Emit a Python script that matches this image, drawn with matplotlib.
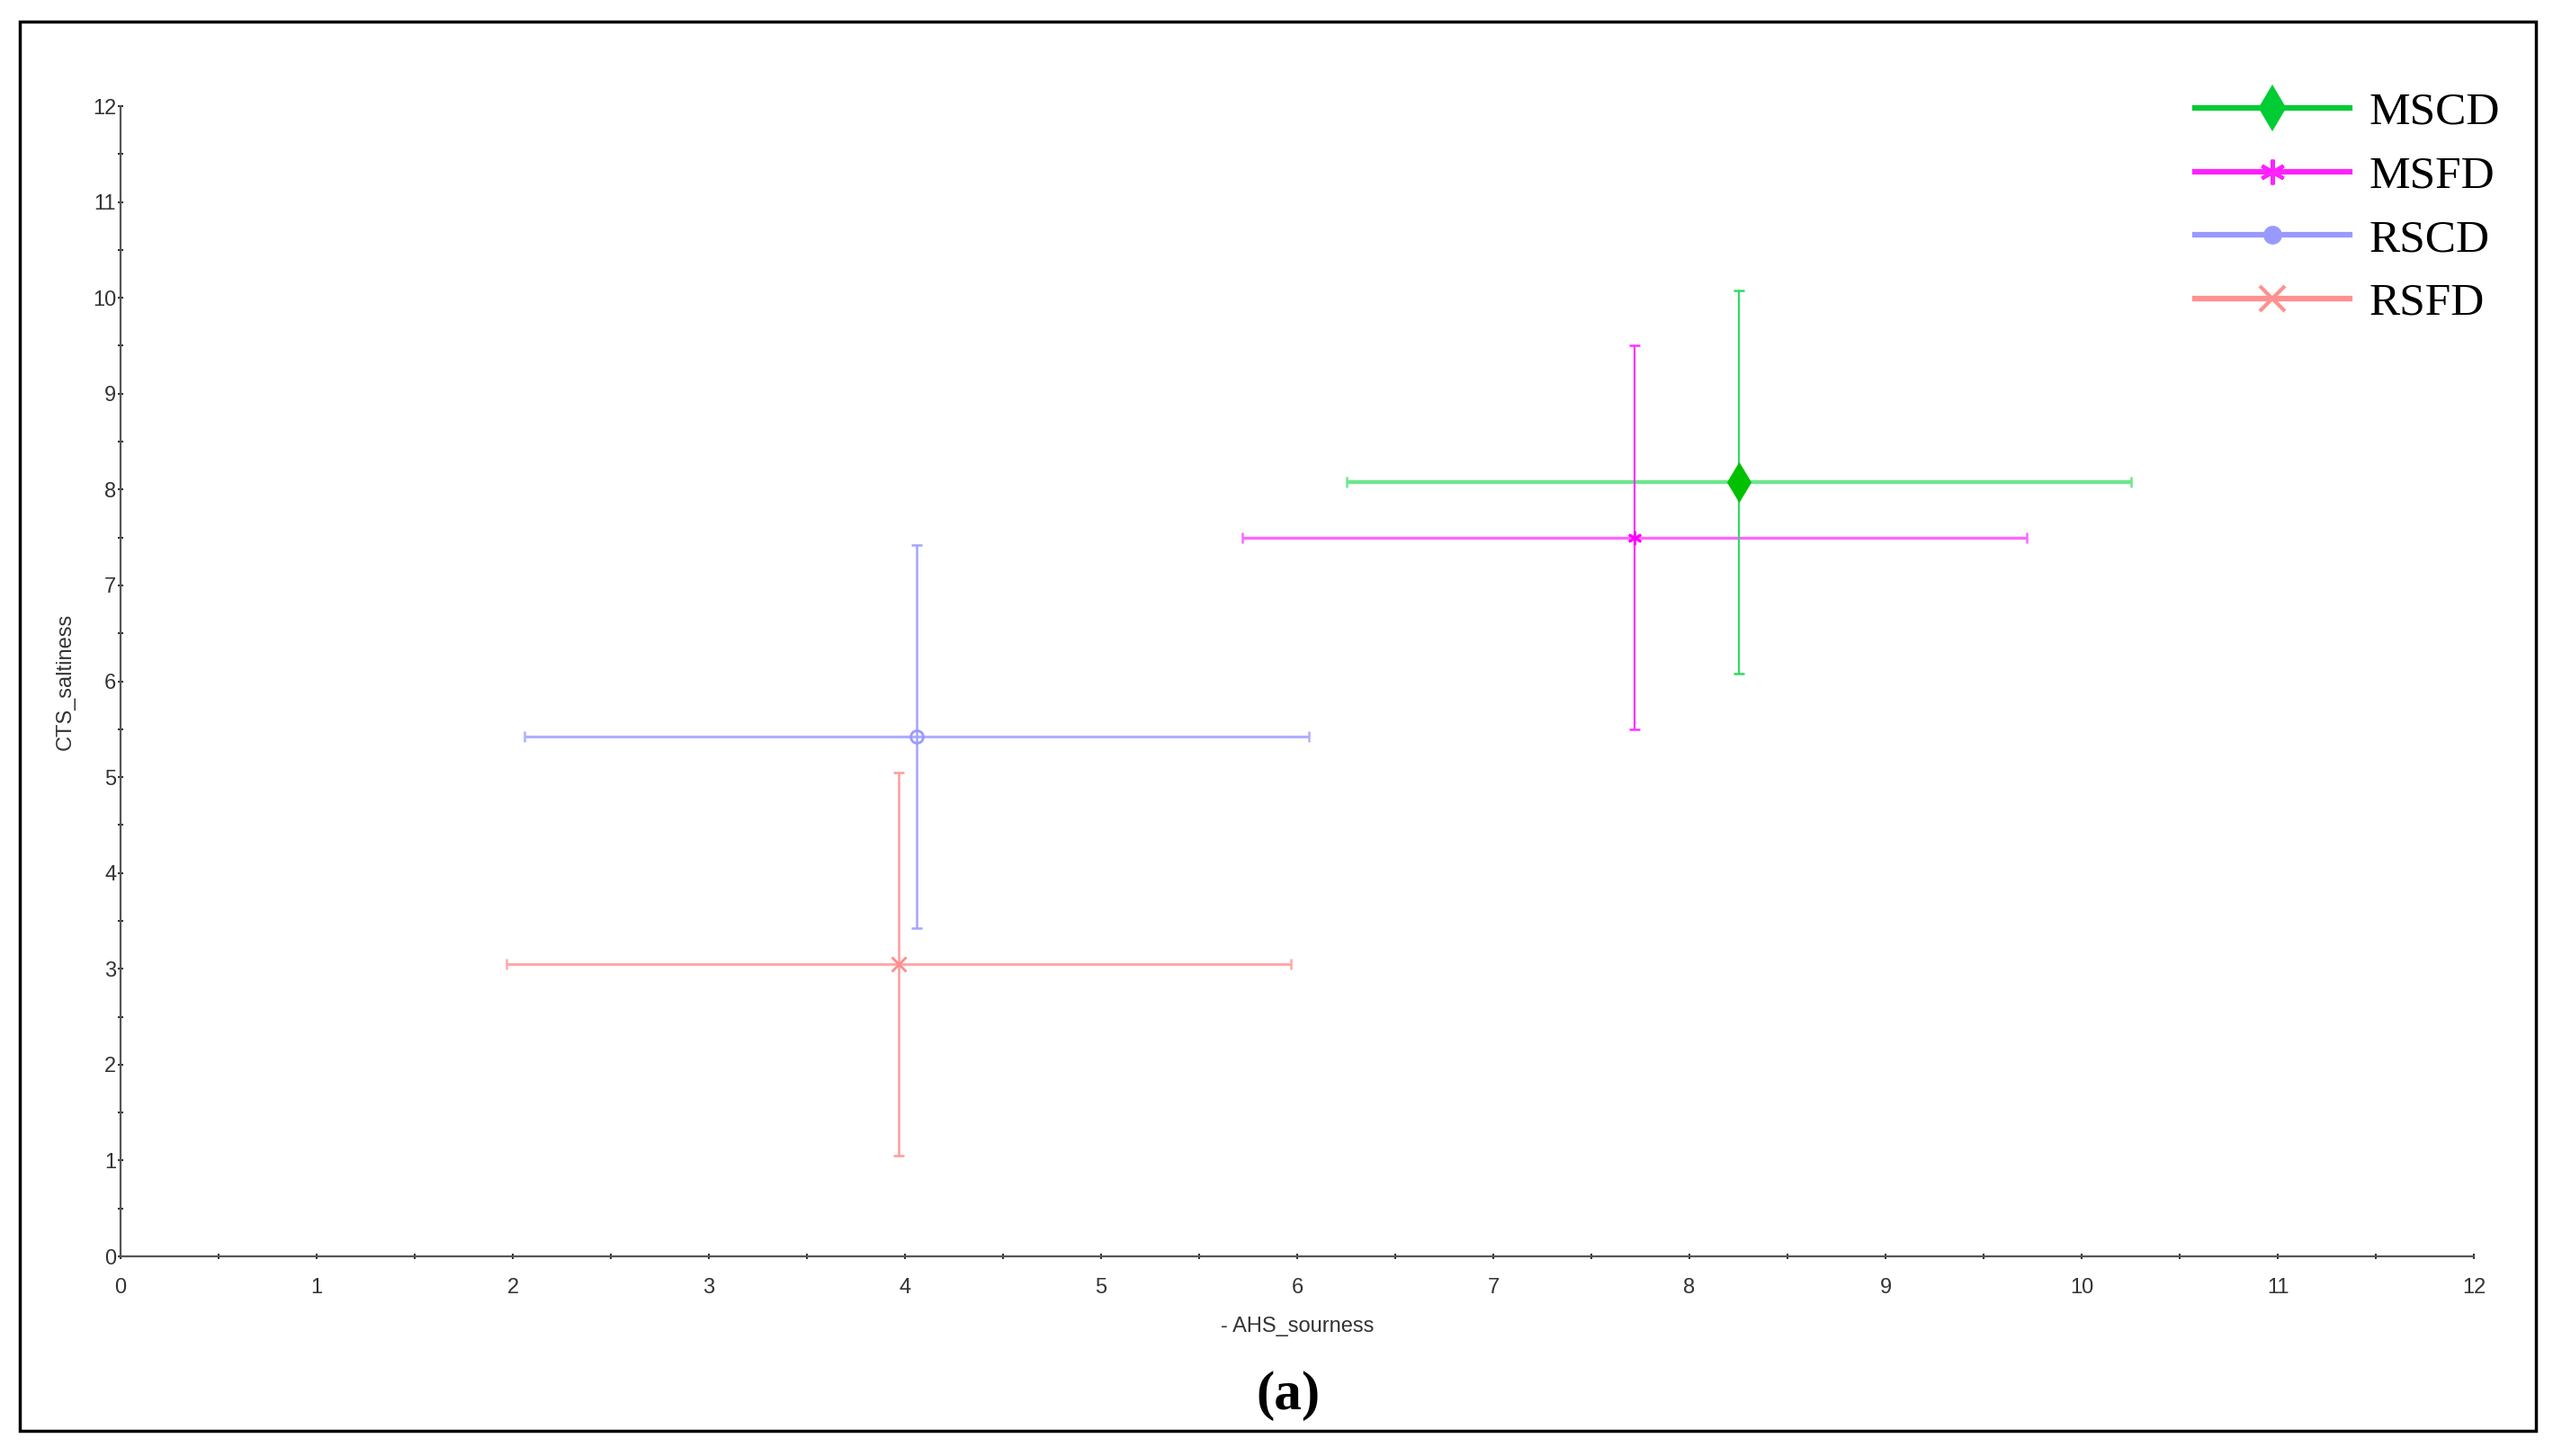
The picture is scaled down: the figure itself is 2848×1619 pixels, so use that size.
import matplotlib
matplotlib.use("Agg")
import matplotlib.pyplot as plt
from matplotlib.lines import Line2D
from matplotlib.patches import Rectangle
from matplotlib.ticker import MultipleLocator

# ---- data ----
samples = ["MSCD", "MSFD", "RSCD", "RSFD"]
x_sourness = [8.25, 7.72, 4.06, 3.97]
y_saltiness = [8.08, 7.50, 5.42, 3.05]
x_err = [2.0, 2.0, 2.0, 2.0]
y_err = [2.0, 2.0, 2.0, 2.0]
x_ticks = list(range(0, 13))
y_ticks = list(range(0, 13))

# ---- styles ----
marker_col = ["#00C000", "#FF00FF", "#9A9AFF", "#FF8C8C"]
hbar_col = ["#6EE68E", "#FF66FF", "#AEAEFF", "#FFA8A8"]
vbar_col = ["#33D966", "#FF33FF", "#A4A4FF", "#FF9C9C"]
hbar_lw = [3.2, 2.4, 2.2, 2.2]
vbar_lw = [1.6, 1.6, 1.8, 1.8]
markers = ["d", (6, 2, 0), "o", "x"]
msizes = [20, 11, 10, 12]
leg_col = ["#00CC33", "#FF22FF", "#9999FF", "#FF9090"]
leg_ms = [22, 20, 12, 20]

W, H = 2848, 1619
fig = plt.figure(figsize=(W / 100, H / 100), dpi=100)
fig.patch.set_facecolor("white")
ax = fig.add_axes([134 / W, 1 - 1397 / H, (2750 - 134) / W, (1397 - 118) / H])

for i in range(len(samples)):
    ax.errorbar(x_sourness[i], y_saltiness[i], xerr=x_err[i], fmt="none",
                ecolor=hbar_col[i], elinewidth=hbar_lw[i], capsize=4,
                capthick=1.8, zorder=2)
    ax.errorbar(x_sourness[i], y_saltiness[i], yerr=y_err[i], fmt="none",
                ecolor=vbar_col[i], elinewidth=vbar_lw[i], capsize=4,
                capthick=1.8, zorder=3)
    mfc = marker_col[i] if i != 2 else "none"
    ax.plot(x_sourness[i], y_saltiness[i], linestyle="none", marker=markers[i],
            markersize=msizes[i], color=marker_col[i], markerfacecolor=mfc,
            markeredgecolor=marker_col[i], markeredgewidth=2, zorder=4)

ax.set_xlim(0, 12)
ax.set_ylim(0, 12)
ax.set_xticks(x_ticks)
ax.set_yticks(y_ticks)
ax.xaxis.set_minor_locator(MultipleLocator(0.5))
ax.yaxis.set_minor_locator(MultipleLocator(0.5))
for s in ["top", "right"]:
    ax.spines[s].set_visible(False)
for s in ["left", "bottom"]:
    ax.spines[s].set_color("#555555")
    ax.spines[s].set_linewidth(1.6)

tick_font = "Liberation Sans"
ax.tick_params(axis="both", which="both", direction="inout", length=5,
               width=1.5, color="#333333", labelcolor="#333333")
ax.tick_params(axis="x", which="major", pad=15, labelsize=17)
ax.tick_params(axis="y", which="major", pad=1, labelsize=17)
for lab in ax.get_xticklabels() + ax.get_yticklabels():
    lab.set_fontfamily(tick_font)

ax.set_xlabel("- AHS_sourness", fontsize=17, fontfamily=tick_font,
              color="#333333", labelpad=15)
ax.set_ylabel("CTS_saltiness", fontsize=17, fontfamily=tick_font,
              color="#333333", labelpad=14)

handles = []
for i in range(len(samples)):
    mfc = leg_col[i]
    handles.append(Line2D([0], [0], color=leg_col[i], lw=4.5, marker=markers[i],
                          markersize=leg_ms[i], markerfacecolor=mfc,
                          markeredgecolor=leg_col[i], markeredgewidth=3))
fig.legend(handles, samples, loc="upper left", bbox_to_anchor=(2440 / W, 1 - 102 / H),
           frameon=False, prop={"family": "Liberation Serif", "size": 37},
           handlelength=3.35, handletextpad=0.42, labelspacing=0.46,
           borderpad=0, borderaxespad=0)

fig.text(1432 / W, 1 - 1552 / H, "(a)", ha="center", va="center",
         fontsize=44, fontweight="bold", fontfamily="Liberation Serif")

fig.patches.append(Rectangle((22 / W, 1 - 1591 / H), (2819 - 22) / W, (1591 - 24) / H,
                             transform=fig.transFigure, fill=False,
                             edgecolor="black", linewidth=2.5))

fig.savefig("out.png", dpi=100, facecolor="white")
